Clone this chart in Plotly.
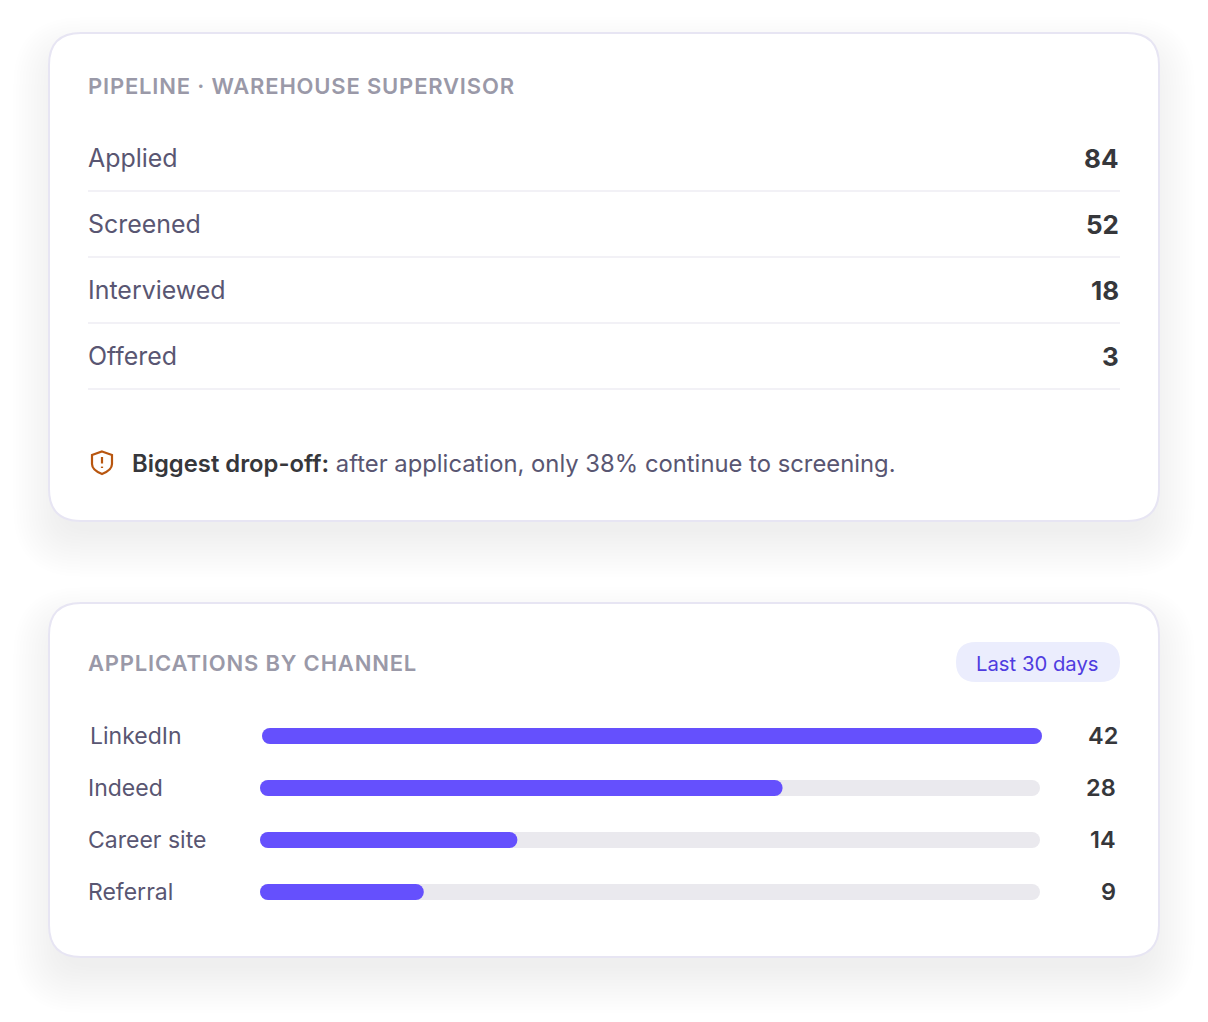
import plotly.graph_objects as go

# browser keeps its default 8px body margin, so the page is 1192x1006 inside it
PAGE_W, PAGE_H = 1208, 1022
MARGIN = 8

stages = ["Applied", "Screened", "Interviewed", "Offered"]
stage_counts = [84, 52, 18, 3]

channels = ["LinkedIn", "Indeed", "Career site", "Referral"]
channel_counts = [42, 28, 14, 9]
channel_fill_pct = [100, 67, 33, 21]
track_pct = [100, 100, 100, 100]

FONT = "Inter"
BODY = "#595672"
DARK = "#36373b"
MUTED = "#9a99a8"
VIOLET = "#6550fd"
TRACK = "#eae9ee"
BORDER = "#e7e5f3"
RULE = "#f2f1f6"
ORANGE = "#b8560f"


def dom_x(a, b):
    return [(a - MARGIN) / (PAGE_W - 2 * MARGIN), (b - MARGIN) / (PAGE_W - 2 * MARGIN)]


def dom_y(top, bottom):
    h = PAGE_H - 2 * MARGIN
    return [1 - (bottom - MARGIN) / h, 1 - (top - MARGIN) / h]


def rounded(x0, y0, x1, y1, r):
    return (
        f"M{x0 + r},{y0} L{x1 - r},{y0} Q{x1},{y0} {x1},{y0 + r} L{x1},{y1 - r} "
        f"Q{x1},{y1} {x1 - r},{y1} L{x0 + r},{y1} Q{x0},{y1} {x0},{y1 - r} "
        f"L{x0},{y0 + r} Q{x0},{y0} {x0 + r},{y0} Z"
    )


def bars(values, names, color, xa, ya):
    # an explicit base makes plotly round both ends of the bar
    return go.Bar(
        y=names, x=values, base=[0] * len(values), orientation="h", width=16 / 52,
        marker=dict(color=color, line_width=0),
        xaxis=xa, yaxis=ya, hoverinfo="skip", showlegend=False,
    )


shapes = []
annotations = []


def shape_path(path, fill="rgba(0,0,0,0)", line=None, width=0):
    shapes.append(dict(
        type="path", path=path, xref="x", yref="y", layer="below", fillcolor=fill,
        line=dict(color=line or "rgba(0,0,0,0)", width=width),
    ))


def text(x, y, s, size, color=BODY, anchor="left", weight=400):
    annotations.append(dict(
        x=x, y=y, xref="x", yref="y", text=s, showarrow=False, xanchor=anchor, yanchor="middle",
        borderpad=0, font=dict(family=FONT, size=size, color=color, weight=weight),
    ))


cards = [(49, 33, 1159, 521), (49, 603, 1159, 957)]

# soft drop shadow, stacked translucent outlines
for x0, y0, x1, y1 in cards:
    for spread in range(36, -12, -3):
        shape_path(
            rounded(x0 - spread, y0 + 20 - spread, x1 + spread, y1 + 20 + spread, 32 + max(spread, 0)),
            fill="rgba(40,40,60,0.003)",
        )
for x0, y0, x1, y1 in cards:
    shape_path(rounded(x0, y0, x1, y1, 32), fill="#ffffff", line=BORDER, width=2)

# pipeline card
text(87, 86, '<span style="letter-spacing:0.82px">PIPELINE · WAREHOUSE SUPERVISOR</span>', 22, MUTED, weight=600)
for i, (stage, n) in enumerate(zip(stages, stage_counts)):
    y = 158 + 66 * i
    text(87, y, stage, 24.95)
    text(1120, y, str(n), 26, DARK, "right", 680)
    shape_path(f"M88,{191 + 66 * i} L1120,{191 + 66 * i}", line=RULE, width=2)

# warning shield
shape_path(
    "M102,451.5 L112,455 L112,464 Q112,470 102,474 Q92,470 92,464 L92,455 Z",
    line=ORANGE, width=2.2,
)
shape_path("M102,457 L102,463.5", line=ORANGE, width=2.2)
shape_path("M102,466.6 L102,468", line=ORANGE, width=2.2)
text(
    131, 463.5,
    f'<span style="font-weight:640;color:{DARK}">Biggest drop-off:</span> '
    "after application, only 38% continue to screening.",
    23.82,
)

# channel card
text(87, 663, '<span style="letter-spacing:0.82px">APPLICATIONS BY CHANNEL</span>', 22, MUTED, weight=600)
shape_path(rounded(956, 642, 1120, 682, 20), fill="#ebedfd")
text(1037.6, 663, "Last 30 days", 20.3, "#4f3ce0", "center", 400)
for i, (name, n) in enumerate(zip(channels, channel_counts)):
    y = 735.5 + 52 * i
    shift = 2 if i == 0 else 0
    text(87 + shift, y, name, 23)
    text(1116.5 + shift, y, str(n), 23.5, DARK, "right", 600)

traces = [
    bars(track_pct[1:], channels[1:], TRACK, "x2", "y2"),
    bars(channel_fill_pct[1:], channels[1:], VIOLET, "x2", "y2"),
    # first row sits 2px right of the others in the reference
    bars(track_pct[:1], channels[:1], TRACK, "x3", "y3"),
    bars(channel_fill_pct[:1], channels[:1], VIOLET, "x3", "y3"),
]

fig = go.Figure(traces)

hidden = dict(visible=False, fixedrange=True)
fig.update_layout(
    width=PAGE_W - 2 * MARGIN,
    height=PAGE_H - 2 * MARGIN,
    margin=dict(l=0, r=0, t=0, b=0),
    paper_bgcolor="#ffffff",
    plot_bgcolor="rgba(0,0,0,0)",
    barmode="overlay",
    barcornerradius=8,
    showlegend=False,
    shapes=shapes,
    annotations=annotations,
    xaxis=dict(domain=[0, 1], range=[MARGIN, PAGE_W - MARGIN], **hidden),
    yaxis=dict(domain=[0, 1], range=[PAGE_H - MARGIN, MARGIN], **hidden),
    xaxis2=dict(domain=dom_x(260, 1040), range=[0, 100], anchor="y2", **hidden),
    yaxis2=dict(domain=dom_y(710, 918), range=[3.5, -0.5], type="category", categoryorder="array",
                categoryarray=channels, anchor="x2", **hidden),
    xaxis3=dict(domain=dom_x(262, 1042), range=[0, 100], anchor="y3", **hidden),
    yaxis3=dict(domain=dom_y(710, 918), range=[3.5, -0.5], type="category", categoryorder="array",
                categoryarray=channels, anchor="x3", **hidden),
)

fig.write_html("out.html")
